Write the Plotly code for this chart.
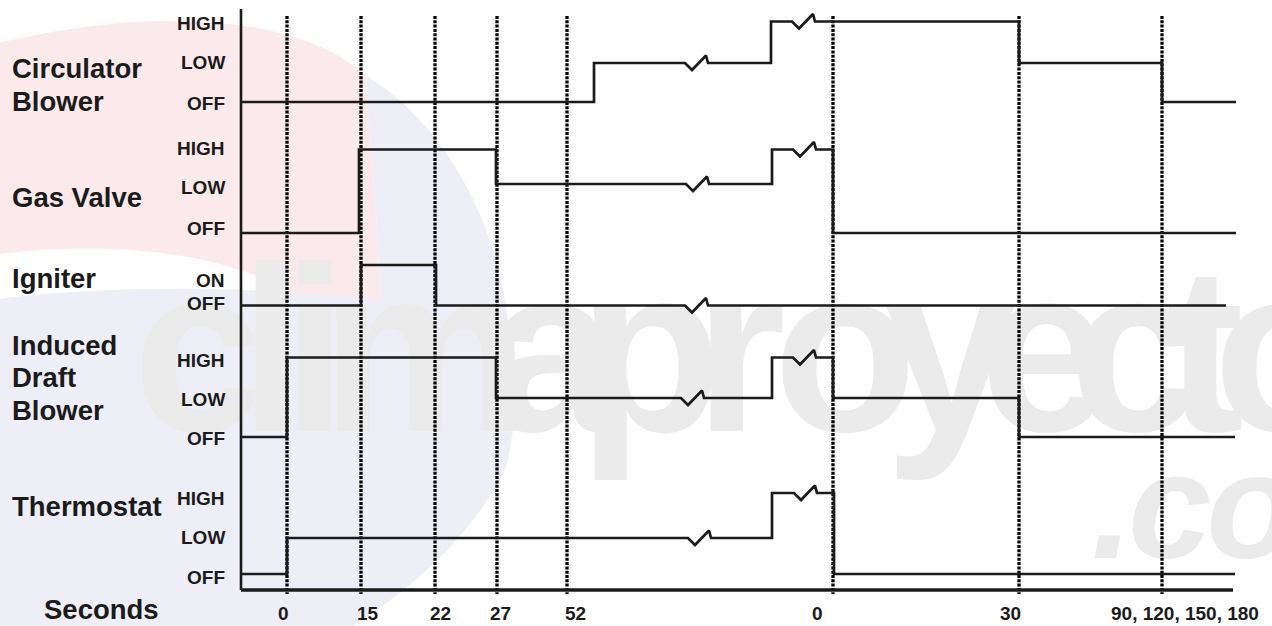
import plotly.graph_objects as go

W, H = 1272, 626

# ---------------- data ----------------
tick_labels = ["0", "15", "22", "27", "52", "0", "30", "90, 120, 150, 180"]
mark_x = [287, 361, 435, 497, 567, 833, 1019, 1162]          # time marks (diagram units)
tick_label_x = [283, 368, 440, 500, 575, 817, 1010, 1185]

signal_names = [["Circulator", "Blower"], ["Gas Valve"], ["Igniter"],
                ["Induced", "Draft", "Blower"], ["Thermostat"]]
name_y = [[68, 101], [197], [278], [345, 377.5, 410.5], [506]]

level_names = [["HIGH", "LOW", "OFF"], ["HIGH", "LOW", "OFF"], ["ON", "OFF"],
               ["HIGH", "LOW", "OFF"], ["HIGH", "LOW", "OFF"]]
level_y = [[21.5, 63, 102], [149.5, 184, 233], [265, 305.5],
           [357.5, 398, 437], [493, 538, 574]]
level_label_y = [[23.7, 62.2, 103.3], [148.7, 187, 228.3], [280, 303.3],
                 [360, 399.7, 438.7], [498.3, 537, 577]]

change_x = [[241, 594, 771, 1019, 1162],
            [241, 359, 496, 772, 833],
            [241, 361, 436],
            [241, 287, 496, 772, 833, 1019],
            [241, 287, 772, 834]]
states = [["OFF", "LOW", "HIGH", "LOW", "OFF"],
          ["OFF", "HIGH", "LOW", "HIGH", "OFF"],
          ["OFF", "ON", "OFF"],
          ["OFF", "HIGH", "LOW", "HIGH", "LOW", "OFF"],
          ["OFF", "LOW", "HIGH", "OFF"]]
end_x = [1236, 1236, 1226, 1235, 1235]
break_x = [[685, 792], [686, 793], [685], [681, 793], [688, 794]]

axis_x0, axis_x1, axis_top, axis_bottom = 241, 1233, 9, 590

INK = "#1b1b1b"
FONT = "Liberation Sans, Arial, Helvetica, sans-serif"

fig = go.Figure()

# ---------------- faint background logo (swoosh) ----------------
shapes = [
    dict(type="path", layer="below", line=dict(width=0), fillcolor="#fbeaec",
         path="M -10,45 C 150,5 300,15 365,75 C 372,150 378,230 380,300 "
              "L 300,300 C 240,255 120,238 -10,255 Z"),
    dict(type="path", layer="below", line=dict(width=0), fillcolor="#eeeef6",
         path="M 365,75 C 440,120 490,210 505,300 C 515,360 520,420 505,470 "
              "C 470,540 400,600 330,640 L -10,640 L -10,300 "
              "C 100,285 250,285 380,300 C 378,230 372,150 365,75 Z"),
]

# ---------------- watermark (faint background text) ----------------
wm_letters = list("climaproyecto")
wm_x = [198, 272, 315, 425, 552, 650, 740, 845, 950, 1045, 1135, 1205, 1285]
fig.add_trace(go.Scatter(
    x=wm_x, y=[372] * len(wm_x), mode="text", text=wm_letters,
    textposition="middle center", hoverinfo="skip",
    textfont=dict(family="Liberation Sans", size=235, color="#ebebeb", weight="bold"),
))
fig.add_trace(go.Scatter(
    x=[1112, 1170, 1252], y=[520, 520, 520], mode="text", text=[".", "c", "o"],
    textposition="middle center", hoverinfo="skip",
    textfont=dict(family="Liberation Sans", size=150, color="#ebebeb",
                  weight="bold", style="italic"),
))

# ---------------- time marks (dotted) ----------------
for mx in mark_x:
    fig.add_trace(go.Scatter(
        x=[mx, mx], y=[16, 594], mode="lines", hoverinfo="skip",
        line=dict(color="#000000", width=3.3, dash="3px,1.3px"),
    ))

# ---------------- axes ----------------
fig.add_trace(go.Scatter(x=[axis_x0, axis_x0], y=[axis_top, axis_bottom], mode="lines",
                         hoverinfo="skip", line=dict(color=INK, width=2.6)))
fig.add_trace(go.Scatter(x=[axis_x0, axis_x1], y=[axis_bottom, axis_bottom], mode="lines",
                         hoverinfo="skip", line=dict(color=INK, width=3.6)))

# ---------------- signals ----------------
def build(cx, st, end, brk, ymap):
    xs, ys = [], []
    bounds = cx[1:] + [end]
    for i, s in enumerate(st):
        y = ymap[s]
        x0, x1 = cx[i], bounds[i]
        xs.append(x0); ys.append(y)
        for b in brk:
            if x0 < b < x1:
                xs += [b, b + 7, b + 21, b + 23]
                ys += [y, y + 7, y - 7.5, y]
        xs.append(x1); ys.append(y)
    return xs, ys

for k in range(len(states)):
    ymap = dict(zip(level_names[k], level_y[k]))
    xs, ys = build(change_x[k], states[k], end_x[k], break_x[k], ymap)
    fig.add_trace(go.Scatter(x=xs, y=ys, mode="lines", hoverinfo="skip",
                             line=dict(color=INK, width=2.7)))

# ---------------- text ----------------
ann = []
for names, ys in zip(signal_names, name_y):
    for t, y in zip(names, ys):
        ann.append(dict(x=11, y=y, text=f"<b>{t}</b>", xanchor="left", yanchor="middle",
                        showarrow=False, font=dict(family=FONT, size=27.5, color=INK),
                        borderpad=0))
for names, ys in zip(level_names, level_label_y):
    for t, y in zip(names, ys):
        ann.append(dict(x=226, y=y, text=f"<b>{t}</b>", xanchor="right", yanchor="middle",
                        showarrow=False, font=dict(family=FONT, size=19, color=INK),
                        borderpad=0))
for t, x in zip(tick_labels, tick_label_x):
    ann.append(dict(x=x, y=613, text=f"<b>{t}</b>", xanchor="center", yanchor="middle",
                    showarrow=False, font=dict(family=FONT, size=19, color=INK),
                    borderpad=0))
ann.append(dict(x=101, y=609, text="<b>Seconds</b>", xanchor="center", yanchor="middle",
                showarrow=False, font=dict(family=FONT, size=27.5, color=INK), borderpad=0))

fig.update_layout(
    width=W, height=H, margin=dict(l=0, r=0, t=0, b=0),
    paper_bgcolor="white", plot_bgcolor="rgba(0,0,0,0)", showlegend=False,
    xaxis=dict(range=[0, W], visible=False, fixedrange=True),
    yaxis=dict(range=[H, 0], visible=False, fixedrange=True),
    annotations=ann, shapes=shapes,
)

fig.write_html("out.html", config={"displayModeBar": False},
               post_script="document.body.style.margin='0px';document.body.style.padding='0px';")
